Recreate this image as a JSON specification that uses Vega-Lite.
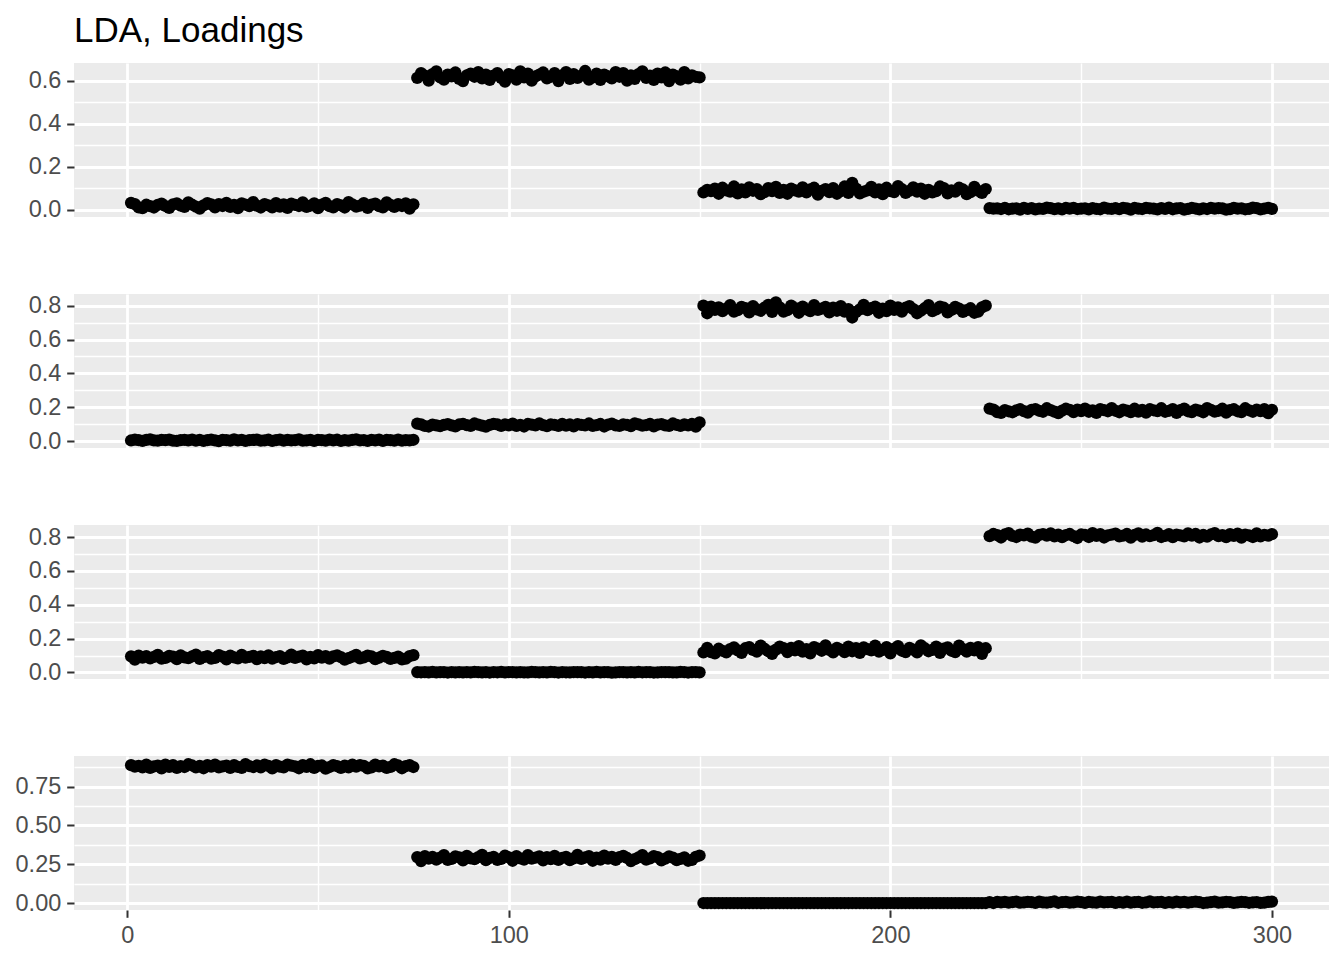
{
"$schema":"https://vega.github.io/schema/vega-lite/v6.json",
"background":"white",
"padding":{"left":15,"top":14,"right":15,"bottom":10},
"bounds":"flush",
"spacing":77,
"config":{
 "view":{"fill":"#EBEBEB","stroke":null},
 "axis":{"domain":false,"labelFont":"Liberation Sans","labelFontSize":23.5,"labelColor":"#4D4D4D","tickColor":"#333333","tickSize":7.3,"tickWidth":2,"labelPadding":5.9,"gridColor":"#FFFFFF","labelFlush":false,"labelOverlap":false,"labelBound":false}
},
"data":{"values":[
{"x":1,"LD1":0.032,"LD2":0.0035,"LD3":0.095,"LD4":0.888},
{"x":2,"LD1":0.026,"LD2":0.008,"LD3":0.075,"LD4":0.879},
{"x":3,"LD1":0.011,"LD2":0.0055,"LD3":0.099,"LD4":0.883},
{"x":4,"LD1":0.007,"LD2":0.001,"LD3":0.087,"LD4":0.874},
{"x":5,"LD1":0.023,"LD2":0.007,"LD3":0.096,"LD4":0.892},
{"x":6,"LD1":0.016,"LD2":0.0095,"LD3":0.083,"LD4":0.871},
{"x":7,"LD1":0.010,"LD2":0.004,"LD3":0.092,"LD4":0.880},
{"x":8,"LD1":0.022,"LD2":0.002,"LD3":0.104,"LD4":0.885},
{"x":9,"LD1":0.028,"LD2":0.0065,"LD3":0.081,"LD4":0.867},
{"x":10,"LD1":0.017,"LD2":0.005,"LD3":0.086,"LD4":0.891},
{"x":11,"LD1":0.008,"LD2":0.0085,"LD3":0.098,"LD4":0.877},
{"x":12,"LD1":0.025,"LD2":0.0025,"LD3":0.093,"LD4":0.888},
{"x":13,"LD1":0.029,"LD2":0.0005,"LD3":0.078,"LD4":0.870},
{"x":14,"LD1":0.019,"LD2":0.006,"LD3":0.101,"LD4":0.882},
{"x":15,"LD1":0.013,"LD2":0.0075,"LD3":0.089,"LD4":0.876},
{"x":16,"LD1":0.034,"LD2":0.0045,"LD3":0.084,"LD4":0.894},
{"x":17,"LD1":0.023,"LD2":0.009,"LD3":0.095,"LD4":0.886},
{"x":18,"LD1":0.014,"LD2":0.003,"LD3":0.105,"LD4":0.873},
{"x":19,"LD1":0.005,"LD2":0.0065,"LD3":0.080,"LD4":0.883},
{"x":20,"LD1":0.020,"LD2":0.0015,"LD3":0.090,"LD4":0.868},
{"x":21,"LD1":0.031,"LD2":0.0055,"LD3":0.096,"LD4":0.889},
{"x":22,"LD1":0.025,"LD2":0.008,"LD3":0.081,"LD4":0.879},
{"x":23,"LD1":0.011,"LD2":0.0035,"LD3":0.086,"LD4":0.892},
{"x":24,"LD1":0.026,"LD2":0,"LD3":0.102,"LD4":0.874},
{"x":25,"LD1":0.017,"LD2":0.007,"LD3":0.093,"LD4":0.880},
{"x":26,"LD1":0.032,"LD2":0.006,"LD3":0.077,"LD4":0.885},
{"x":27,"LD1":0.013,"LD2":0.002,"LD3":0.099,"LD4":0.870},
{"x":28,"LD1":0.022,"LD2":0.0095,"LD3":0.089,"LD4":0.888},
{"x":29,"LD1":0.007,"LD2":0.004,"LD3":0.083,"LD4":0.877},
{"x":30,"LD1":0.029,"LD2":0.0075,"LD3":0.104,"LD4":0.871},
{"x":31,"LD1":0.023,"LD2":0.001,"LD3":0.087,"LD4":0.895},
{"x":32,"LD1":0.016,"LD2":0.005,"LD3":0.092,"LD4":0.882},
{"x":33,"LD1":0.035,"LD2":0.0065,"LD3":0.098,"LD4":0.876},
{"x":34,"LD1":0.019,"LD2":0.0085,"LD3":0.078,"LD4":0.886},
{"x":35,"LD1":0.010,"LD2":0.003,"LD3":0.095,"LD4":0.873},
{"x":36,"LD1":0.026,"LD2":0.0045,"LD3":0.084,"LD4":0.892},
{"x":37,"LD1":0.020,"LD2":0.008,"LD3":0.101,"LD4":0.883},
{"x":38,"LD1":0.011,"LD2":0.0005,"LD3":0.081,"LD4":0.867},
{"x":39,"LD1":0.031,"LD2":0.006,"LD3":0.090,"LD4":0.889},
{"x":40,"LD1":0.014,"LD2":0.009,"LD3":0.096,"LD4":0.879},
{"x":41,"LD1":0.025,"LD2":0.0025,"LD3":0.080,"LD4":0.874},
{"x":42,"LD1":0.008,"LD2":0.007,"LD3":0.089,"LD4":0.891},
{"x":43,"LD1":0.028,"LD2":0.0035,"LD3":0.105,"LD4":0.885},
{"x":44,"LD1":0.022,"LD2":0.0055,"LD3":0.086,"LD4":0.880},
{"x":45,"LD1":0.017,"LD2":0.01,"LD3":0.093,"LD4":0.868},
{"x":46,"LD1":0.034,"LD2":0.002,"LD3":0.099,"LD4":0.888},
{"x":47,"LD1":0.013,"LD2":0.004,"LD3":0.077,"LD4":0.877},
{"x":48,"LD1":0.019,"LD2":0.0075,"LD3":0.092,"LD4":0.894},
{"x":49,"LD1":0.029,"LD2":0.0015,"LD3":0.083,"LD4":0.871},
{"x":50,"LD1":0.007,"LD2":0.0065,"LD3":0.102,"LD4":0.883},
{"x":51,"LD1":0.023,"LD2":0.005,"LD3":0.087,"LD4":0.886},
{"x":52,"LD1":0.032,"LD2":0.003,"LD3":0.096,"LD4":0.865},
{"x":53,"LD1":0.016,"LD2":0.009,"LD3":0.081,"LD4":0.876},
{"x":54,"LD1":0.011,"LD2":0.0045,"LD3":0.095,"LD4":0.889},
{"x":55,"LD1":0.026,"LD2":0.008,"LD3":0.101,"LD4":0.882},
{"x":56,"LD1":0.020,"LD2":0.001,"LD3":0.090,"LD4":0.870},
{"x":57,"LD1":0.010,"LD2":0.006,"LD3":0.075,"LD4":0.885},
{"x":58,"LD1":0.035,"LD2":0.0025,"LD3":0.084,"LD4":0.874},
{"x":59,"LD1":0.025,"LD2":0.007,"LD3":0.093,"LD4":0.892},
{"x":60,"LD1":0.014,"LD2":0.0095,"LD3":0.104,"LD4":0.879},
{"x":61,"LD1":0.019,"LD2":0.0035,"LD3":0.083,"LD4":0.888},
{"x":62,"LD1":0.031,"LD2":0.0055,"LD3":0.089,"LD4":0.883},
{"x":63,"LD1":0.008,"LD2":0.0015,"LD3":0.099,"LD4":0.867},
{"x":64,"LD1":0.023,"LD2":0.0075,"LD3":0.095,"LD4":0.873},
{"x":65,"LD1":0.028,"LD2":0.004,"LD3":0.078,"LD4":0.891},
{"x":66,"LD1":0.016,"LD2":0.0085,"LD3":0.087,"LD4":0.880},
{"x":67,"LD1":0.011,"LD2":0.0005,"LD3":0.098,"LD4":0.885},
{"x":68,"LD1":0.034,"LD2":0.0065,"LD3":0.092,"LD4":0.871},
{"x":69,"LD1":0.022,"LD2":0.005,"LD3":0.080,"LD4":0.877},
{"x":70,"LD1":0.013,"LD2":0.002,"LD3":0.086,"LD4":0.894},
{"x":71,"LD1":0.026,"LD2":0.009,"LD3":0.093,"LD4":0.886},
{"x":72,"LD1":0.017,"LD2":0.003,"LD3":0.077,"LD4":0.868},
{"x":73,"LD1":0.029,"LD2":0.006,"LD3":0.081,"LD4":0.882},
{"x":74,"LD1":0.005,"LD2":0.0045,"LD3":0.096,"LD4":0.889},
{"x":75,"LD1":0.025,"LD2":0.0075,"LD3":0.102,"LD4":0.876},
{"x":76,"LD1":0.613,"LD2":0.103,"LD3":0.002,"LD4":0.296},
{"x":77,"LD1":0.635,"LD2":0.099,"LD3":0.0008,"LD4":0.270},
{"x":78,"LD1":0.623,"LD2":0.089,"LD3":0.0014,"LD4":0.302},
{"x":79,"LD1":0.600,"LD2":0.086,"LD3":0.0002,"LD4":0.286},
{"x":80,"LD1":0.630,"LD2":0.097,"LD3":0.0026,"LD4":0.298},
{"x":81,"LD1":0.643,"LD2":0.092,"LD3":-0.0002,"LD4":0.280},
{"x":82,"LD1":0.615,"LD2":0.088,"LD3":0.001,"LD4":0.292},
{"x":83,"LD1":0.605,"LD2":0.096,"LD3":0.0016,"LD4":0.308},
{"x":84,"LD1":0.628,"LD2":0.100,"LD3":-0.0008,"LD4":0.278},
{"x":85,"LD1":0.620,"LD2":0.093,"LD3":0.0024,"LD4":0.284},
{"x":86,"LD1":0.638,"LD2":0.087,"LD3":0.0006,"LD4":0.300},
{"x":87,"LD1":0.608,"LD2":0.098,"LD3":0.002,"LD4":0.294},
{"x":88,"LD1":0.598,"LD2":0.101,"LD3":-0.0004,"LD4":0.274},
{"x":89,"LD1":0.625,"LD2":0.094,"LD3":0.0012,"LD4":0.304},
{"x":90,"LD1":0.633,"LD2":0.090,"LD3":0.0004,"LD4":0.288},
{"x":91,"LD1":0.618,"LD2":0.104,"LD3":0.0028,"LD4":0.282},
{"x":92,"LD1":0.640,"LD2":0.097,"LD3":0.0018,"LD4":0.296},
{"x":93,"LD1":0.610,"LD2":0.091,"LD3":0,"LD4":0.310},
{"x":94,"LD1":0.628,"LD2":0.085,"LD3":0.0014,"LD4":0.276},
{"x":95,"LD1":0.603,"LD2":0.095,"LD3":-0.0006,"LD4":0.290},
{"x":96,"LD1":0.623,"LD2":0.102,"LD3":0.0022,"LD4":0.298},
{"x":97,"LD1":0.635,"LD2":0.098,"LD3":0.0008,"LD4":0.278},
{"x":98,"LD1":0.613,"LD2":0.089,"LD3":0.0026,"LD4":0.284},
{"x":99,"LD1":0.595,"LD2":0.099,"LD3":0.0002,"LD4":0.306},
{"x":100,"LD1":0.630,"LD2":0.093,"LD3":0.001,"LD4":0.294},
{"x":101,"LD1":0.625,"LD2":0.103,"LD3":0.0016,"LD4":0.272},
{"x":102,"LD1":0.605,"LD2":0.090,"LD3":-0.0004,"LD4":0.302},
{"x":103,"LD1":0.643,"LD2":0.096,"LD3":0.002,"LD4":0.288},
{"x":104,"LD1":0.615,"LD2":0.086,"LD3":0.0006,"LD4":0.280},
{"x":105,"LD1":0.633,"LD2":0.101,"LD3":-0.0002,"LD4":0.308},
{"x":106,"LD1":0.600,"LD2":0.097,"LD3":0.003,"LD4":0.286},
{"x":107,"LD1":0.620,"LD2":0.092,"LD3":0.0012,"LD4":0.292},
{"x":108,"LD1":0.628,"LD2":0.105,"LD3":0.0004,"LD4":0.300},
{"x":109,"LD1":0.638,"LD2":0.094,"LD3":0.0018,"LD4":0.274},
{"x":110,"LD1":0.610,"LD2":0.088,"LD3":0,"LD4":0.296},
{"x":111,"LD1":0.618,"LD2":0.099,"LD3":0.0026,"LD4":0.282},
{"x":112,"LD1":0.635,"LD2":0.095,"LD3":0.0014,"LD4":0.304},
{"x":113,"LD1":0.598,"LD2":0.089,"LD3":-0.0008,"LD4":0.278},
{"x":114,"LD1":0.625,"LD2":0.102,"LD3":0.0022,"LD4":0.290},
{"x":115,"LD1":0.640,"LD2":0.091,"LD3":0.0008,"LD4":0.298},
{"x":116,"LD1":0.608,"LD2":0.098,"LD3":0.0002,"LD4":0.276},
{"x":117,"LD1":0.630,"LD2":0.087,"LD3":0.0024,"LD4":0.288},
{"x":118,"LD1":0.613,"LD2":0.100,"LD3":0.0016,"LD4":0.310},
{"x":119,"LD1":0.623,"LD2":0.096,"LD3":0.001,"LD4":0.284},
{"x":120,"LD1":0.645,"LD2":0.093,"LD3":-0.0006,"LD4":0.294},
{"x":121,"LD1":0.605,"LD2":0.104,"LD3":0.002,"LD4":0.302},
{"x":122,"LD1":0.615,"LD2":0.090,"LD3":0.0006,"LD4":0.272},
{"x":123,"LD1":0.633,"LD2":0.094,"LD3":0.0028,"LD4":0.292},
{"x":124,"LD1":0.603,"LD2":0.101,"LD3":-0.0002,"LD4":0.280},
{"x":125,"LD1":0.628,"LD2":0.086,"LD3":0.0014,"LD4":0.306},
{"x":126,"LD1":0.620,"LD2":0.097,"LD3":0.0018,"LD4":0.286},
{"x":127,"LD1":0.610,"LD2":0.103,"LD3":-0.001,"LD4":0.298},
{"x":128,"LD1":0.640,"LD2":0.092,"LD3":0.0004,"LD4":0.278},
{"x":129,"LD1":0.618,"LD2":0.089,"LD3":0.0022,"LD4":0.296},
{"x":130,"LD1":0.635,"LD2":0.099,"LD3":0.0012,"LD4":0.304},
{"x":131,"LD1":0.600,"LD2":0.095,"LD3":-0.0004,"LD4":0.290},
{"x":132,"LD1":0.625,"LD2":0.088,"LD3":0.0016,"LD4":0.270},
{"x":133,"LD1":0.608,"LD2":0.105,"LD3":0.0002,"LD4":0.282},
{"x":134,"LD1":0.630,"LD2":0.098,"LD3":0.0026,"LD4":0.294},
{"x":135,"LD1":0.643,"LD2":0.091,"LD3":0.0008,"LD4":0.308},
{"x":136,"LD1":0.613,"LD2":0.094,"LD3":0.002,"LD4":0.280},
{"x":137,"LD1":0.623,"LD2":0.102,"LD3":0.0014,"LD4":0.288},
{"x":138,"LD1":0.603,"LD2":0.087,"LD3":-0.0008,"LD4":0.302},
{"x":139,"LD1":0.633,"LD2":0.097,"LD3":0,"LD4":0.296},
{"x":140,"LD1":0.615,"LD2":0.100,"LD3":0.0024,"LD4":0.274},
{"x":141,"LD1":0.638,"LD2":0.092,"LD3":0.001,"LD4":0.286},
{"x":142,"LD1":0.598,"LD2":0.089,"LD3":0.0016,"LD4":0.300},
{"x":143,"LD1":0.628,"LD2":0.104,"LD3":-0.0002,"LD4":0.292},
{"x":144,"LD1":0.620,"LD2":0.096,"LD3":0.0006,"LD4":0.276},
{"x":145,"LD1":0.605,"LD2":0.090,"LD3":0.0028,"LD4":0.284},
{"x":146,"LD1":0.640,"LD2":0.099,"LD3":0.0018,"LD4":0.294},
{"x":147,"LD1":0.610,"LD2":0.093,"LD3":-0.0006,"LD4":0.272},
{"x":148,"LD1":0.625,"LD2":0.101,"LD3":0.0012,"LD4":0.278},
{"x":149,"LD1":0.618,"LD2":0.085,"LD3":0.0022,"LD4":0.298},
{"x":150,"LD1":0.615,"LD2":0.110,"LD3":0.0004,"LD4":0.306},
{"x":151,"LD1":0.080,"LD2":0.800,"LD3":0.118,"LD4":0},
{"x":152,"LD1":0.092,"LD2":0.755,"LD3":0.145,"LD4":0},
{"x":153,"LD1":0.086,"LD2":0.795,"LD3":0.120,"LD4":0},
{"x":154,"LD1":0.098,"LD2":0.775,"LD3":0.113,"LD4":0},
{"x":155,"LD1":0.074,"LD2":0.790,"LD3":0.140,"LD4":0},
{"x":156,"LD1":0.102,"LD2":0.768,"LD3":0.128,"LD4":0},
{"x":157,"LD1":0.090,"LD2":0.783,"LD3":0.118,"LD4":0},
{"x":158,"LD1":0.084,"LD2":0.803,"LD3":0.138,"LD4":0},
{"x":159,"LD1":0.108,"LD2":0.765,"LD3":0.148,"LD4":0},
{"x":160,"LD1":0.076,"LD2":0.773,"LD3":0.130,"LD4":0},
{"x":161,"LD1":0.094,"LD2":0.793,"LD3":0.115,"LD4":0},
{"x":162,"LD1":0.080,"LD2":0.785,"LD3":0.143,"LD4":0},
{"x":163,"LD1":0.104,"LD2":0.760,"LD3":0.150,"LD4":0},
{"x":164,"LD1":0.088,"LD2":0.798,"LD3":0.133,"LD4":0},
{"x":165,"LD1":0.096,"LD2":0.778,"LD3":0.123,"LD4":0},
{"x":166,"LD1":0.072,"LD2":0.770,"LD3":0.158,"LD4":0},
{"x":167,"LD1":0.082,"LD2":0.788,"LD3":0.140,"LD4":0},
{"x":168,"LD1":0.100,"LD2":0.805,"LD3":0.125,"LD4":0},
{"x":169,"LD1":0.086,"LD2":0.763,"LD3":0.110,"LD4":0},
{"x":170,"LD1":0.106,"LD2":0.820,"LD3":0.135,"LD4":0},
{"x":171,"LD1":0.078,"LD2":0.790,"LD3":0.153,"LD4":0},
{"x":172,"LD1":0.092,"LD2":0.765,"LD3":0.143,"LD4":0},
{"x":173,"LD1":0.074,"LD2":0.773,"LD3":0.120,"LD4":0},
{"x":174,"LD1":0.098,"LD2":0.800,"LD3":0.145,"LD4":0},
{"x":175,"LD1":0.090,"LD2":0.785,"LD3":0.130,"LD4":0},
{"x":176,"LD1":0.084,"LD2":0.758,"LD3":0.155,"LD4":0},
{"x":177,"LD1":0.104,"LD2":0.795,"LD3":0.123,"LD4":0},
{"x":178,"LD1":0.080,"LD2":0.778,"LD3":0.138,"LD4":0},
{"x":179,"LD1":0.094,"LD2":0.768,"LD3":0.113,"LD4":0},
{"x":180,"LD1":0.102,"LD2":0.803,"LD3":0.150,"LD4":0},
{"x":181,"LD1":0.070,"LD2":0.775,"LD3":0.140,"LD4":0},
{"x":182,"LD1":0.088,"LD2":0.783,"LD3":0.128,"LD4":0},
{"x":183,"LD1":0.096,"LD2":0.793,"LD3":0.160,"LD4":0},
{"x":184,"LD1":0.082,"LD2":0.760,"LD3":0.133,"LD4":0},
{"x":185,"LD1":0.100,"LD2":0.788,"LD3":0.118,"LD4":0},
{"x":186,"LD1":0.074,"LD2":0.770,"LD3":0.145,"LD4":0},
{"x":187,"LD1":0.086,"LD2":0.798,"LD3":0.135,"LD4":0},
{"x":188,"LD1":0.108,"LD2":0.765,"LD3":0.120,"LD4":0},
{"x":189,"LD1":0.078,"LD2":0.780,"LD3":0.153,"LD4":0},
{"x":190,"LD1":0.125,"LD2":0.730,"LD3":0.125,"LD4":0},
{"x":191,"LD1":0.098,"LD2":0.763,"LD3":0.143,"LD4":0},
{"x":192,"LD1":0.076,"LD2":0.778,"LD3":0.115,"LD4":0},
{"x":193,"LD1":0.084,"LD2":0.805,"LD3":0.148,"LD4":0},
{"x":194,"LD1":0.090,"LD2":0.773,"LD3":0.138,"LD4":0},
{"x":195,"LD1":0.106,"LD2":0.785,"LD3":0.130,"LD4":0},
{"x":196,"LD1":0.080,"LD2":0.795,"LD3":0.158,"LD4":0},
{"x":197,"LD1":0.094,"LD2":0.758,"LD3":0.123,"LD4":0},
{"x":198,"LD1":0.072,"LD2":0.783,"LD3":0.133,"LD4":0},
{"x":199,"LD1":0.102,"LD2":0.768,"LD3":0.150,"LD4":0},
{"x":200,"LD1":0.086,"LD2":0.800,"LD3":0.113,"LD4":0},
{"x":201,"LD1":0.082,"LD2":0.775,"LD3":0.140,"LD4":0},
{"x":202,"LD1":0.110,"LD2":0.790,"LD3":0.155,"LD4":0},
{"x":203,"LD1":0.096,"LD2":0.765,"LD3":0.128,"LD4":0},
{"x":204,"LD1":0.078,"LD2":0.788,"LD3":0.120,"LD4":0},
{"x":205,"LD1":0.088,"LD2":0.798,"LD3":0.145,"LD4":0},
{"x":206,"LD1":0.104,"LD2":0.780,"LD3":0.135,"LD4":0},
{"x":207,"LD1":0.084,"LD2":0.755,"LD3":0.118,"LD4":0},
{"x":208,"LD1":0.098,"LD2":0.770,"LD3":0.160,"LD4":0},
{"x":209,"LD1":0.074,"LD2":0.785,"LD3":0.143,"LD4":0},
{"x":210,"LD1":0.092,"LD2":0.803,"LD3":0.125,"LD4":0},
{"x":211,"LD1":0.080,"LD2":0.768,"LD3":0.133,"LD4":0},
{"x":212,"LD1":0.086,"LD2":0.778,"LD3":0.153,"LD4":0},
{"x":213,"LD1":0.108,"LD2":0.795,"LD3":0.115,"LD4":0},
{"x":214,"LD1":0.100,"LD2":0.788,"LD3":0.140,"LD4":0},
{"x":215,"LD1":0.076,"LD2":0.760,"LD3":0.148,"LD4":0},
{"x":216,"LD1":0.090,"LD2":0.775,"LD3":0.128,"LD4":0},
{"x":217,"LD1":0.084,"LD2":0.793,"LD3":0.120,"LD4":0},
{"x":218,"LD1":0.102,"LD2":0.783,"LD3":0.158,"LD4":0},
{"x":219,"LD1":0.094,"LD2":0.763,"LD3":0.138,"LD4":0},
{"x":220,"LD1":0.072,"LD2":0.773,"LD3":0.123,"LD4":0},
{"x":221,"LD1":0.082,"LD2":0.785,"LD3":0.145,"LD4":0},
{"x":222,"LD1":0.106,"LD2":0.758,"LD3":0.130,"LD4":0},
{"x":223,"LD1":0.088,"LD2":0.765,"LD3":0.150,"LD4":0},
{"x":224,"LD1":0.078,"LD2":0.790,"LD3":0.110,"LD4":0},
{"x":225,"LD1":0.096,"LD2":0.800,"LD3":0.143,"LD4":0},
{"x":226,"LD1":0.0075,"LD2":0.192,"LD3":0.806,"LD4":0.0065},
{"x":227,"LD1":0.0045,"LD2":0.186,"LD3":0.819,"LD4":0},
{"x":228,"LD1":0.006,"LD2":0.171,"LD3":0.812,"LD4":0.008},
{"x":229,"LD1":0.003,"LD2":0.167,"LD3":0.798,"LD4":0.004},
{"x":230,"LD1":0.009,"LD2":0.183,"LD3":0.816,"LD4":0.007},
{"x":231,"LD1":0.002,"LD2":0.176,"LD3":0.824,"LD4":0.0025},
{"x":232,"LD1":0.005,"LD2":0.170,"LD3":0.807,"LD4":0.0055},
{"x":233,"LD1":0.0065,"LD2":0.182,"LD3":0.801,"LD4":0.0095},
{"x":234,"LD1":0.0005,"LD2":0.188,"LD3":0.815,"LD4":0.002},
{"x":235,"LD1":0.0085,"LD2":0.177,"LD3":0.810,"LD4":0.0035},
{"x":236,"LD1":0.004,"LD2":0.168,"LD3":0.821,"LD4":0.0075},
{"x":237,"LD1":0.0075,"LD2":0.185,"LD3":0.803,"LD4":0.006},
{"x":238,"LD1":0.0015,"LD2":0.189,"LD3":0.797,"LD4":0.001},
{"x":239,"LD1":0.0055,"LD2":0.179,"LD3":0.813,"LD4":0.0085},
{"x":240,"LD1":0.0035,"LD2":0.173,"LD3":0.818,"LD4":0.0045},
{"x":241,"LD1":0.0095,"LD2":0.194,"LD3":0.809,"LD4":0.003},
{"x":242,"LD1":0.007,"LD2":0.183,"LD3":0.822,"LD4":0.0065},
{"x":243,"LD1":0.0025,"LD2":0.174,"LD3":0.804,"LD4":0.01},
{"x":244,"LD1":0.006,"LD2":0.165,"LD3":0.815,"LD4":0.0015},
{"x":245,"LD1":0.001,"LD2":0.180,"LD3":0.800,"LD4":0.005},
{"x":246,"LD1":0.008,"LD2":0.191,"LD3":0.812,"LD4":0.007},
{"x":247,"LD1":0.0045,"LD2":0.185,"LD3":0.819,"LD4":0.002},
{"x":248,"LD1":0.009,"LD2":0.171,"LD3":0.806,"LD4":0.0035},
{"x":249,"LD1":0.003,"LD2":0.186,"LD3":0.795,"LD4":0.009},
{"x":250,"LD1":0.005,"LD2":0.177,"LD3":0.816,"LD4":0.006},
{"x":251,"LD1":0.0065,"LD2":0.192,"LD3":0.813,"LD4":0.0005},
{"x":252,"LD1":0.0015,"LD2":0.173,"LD3":0.801,"LD4":0.008},
{"x":253,"LD1":0.0075,"LD2":0.182,"LD3":0.824,"LD4":0.0045},
{"x":254,"LD1":0.004,"LD2":0.167,"LD3":0.807,"LD4":0.0025},
{"x":255,"LD1":0.002,"LD2":0.189,"LD3":0.818,"LD4":0.0095},
{"x":256,"LD1":0.01,"LD2":0.183,"LD3":0.798,"LD4":0.004},
{"x":257,"LD1":0.0055,"LD2":0.176,"LD3":0.810,"LD4":0.0055},
{"x":258,"LD1":0.0035,"LD2":0.195,"LD3":0.815,"LD4":0.0075},
{"x":259,"LD1":0.007,"LD2":0.179,"LD3":0.821,"LD4":0.001},
{"x":260,"LD1":0.0025,"LD2":0.170,"LD3":0.804,"LD4":0.0065},
{"x":261,"LD1":0.009,"LD2":0.186,"LD3":0.809,"LD4":0.003},
{"x":262,"LD1":0.006,"LD2":0.180,"LD3":0.819,"LD4":0.0085},
{"x":263,"LD1":0.0005,"LD2":0.171,"LD3":0.797,"LD4":0.002},
{"x":264,"LD1":0.008,"LD2":0.191,"LD3":0.813,"LD4":0.005},
{"x":265,"LD1":0.0045,"LD2":0.174,"LD3":0.822,"LD4":0.007},
{"x":266,"LD1":0.003,"LD2":0.185,"LD3":0.803,"LD4":0.0015},
{"x":267,"LD1":0.0085,"LD2":0.168,"LD3":0.816,"LD4":0.0045},
{"x":268,"LD1":0.0065,"LD2":0.188,"LD3":0.806,"LD4":0.01},
{"x":269,"LD1":0.005,"LD2":0.182,"LD3":0.812,"LD4":0.0035},
{"x":270,"LD1":0.001,"LD2":0.177,"LD3":0.825,"LD4":0.006},
{"x":271,"LD1":0.0075,"LD2":0.194,"LD3":0.801,"LD4":0.008},
{"x":272,"LD1":0.004,"LD2":0.173,"LD3":0.807,"LD4":0.0005},
{"x":273,"LD1":0.0095,"LD2":0.179,"LD3":0.818,"LD4":0.0055},
{"x":274,"LD1":0.002,"LD2":0.189,"LD3":0.800,"LD4":0.0025},
{"x":275,"LD1":0.006,"LD2":0.167,"LD3":0.815,"LD4":0.009},
{"x":276,"LD1":0.007,"LD2":0.183,"LD3":0.810,"LD4":0.004},
{"x":277,"LD1":0,"LD2":0.192,"LD3":0.804,"LD4":0.007},
{"x":278,"LD1":0.0035,"LD2":0.176,"LD3":0.822,"LD4":0.002},
{"x":279,"LD1":0.008,"LD2":0.171,"LD3":0.809,"LD4":0.0065},
{"x":280,"LD1":0.0055,"LD2":0.186,"LD3":0.819,"LD4":0.0085},
{"x":281,"LD1":0.0015,"LD2":0.180,"LD3":0.798,"LD4":0.005},
{"x":282,"LD1":0.0065,"LD2":0.170,"LD3":0.813,"LD4":0},
{"x":283,"LD1":0.003,"LD2":0.195,"LD3":0.803,"LD4":0.003},
{"x":284,"LD1":0.009,"LD2":0.185,"LD3":0.816,"LD4":0.006},
{"x":285,"LD1":0.0045,"LD2":0.174,"LD3":0.824,"LD4":0.0095},
{"x":286,"LD1":0.0075,"LD2":0.179,"LD3":0.806,"LD4":0.0025},
{"x":287,"LD1":0.006,"LD2":0.191,"LD3":0.812,"LD4":0.0045},
{"x":288,"LD1":0.0005,"LD2":0.168,"LD3":0.800,"LD4":0.008},
{"x":289,"LD1":0.0025,"LD2":0.183,"LD3":0.818,"LD4":0.0065},
{"x":290,"LD1":0.0085,"LD2":0.188,"LD3":0.807,"LD4":0.001},
{"x":291,"LD1":0.005,"LD2":0.176,"LD3":0.821,"LD4":0.004},
{"x":292,"LD1":0.0065,"LD2":0.171,"LD3":0.797,"LD4":0.0075},
{"x":293,"LD1":0.002,"LD2":0.194,"LD3":0.815,"LD4":0.0055},
{"x":294,"LD1":0.004,"LD2":0.182,"LD3":0.810,"LD4":0.0015},
{"x":295,"LD1":0.0095,"LD2":0.173,"LD3":0.801,"LD4":0.0035},
{"x":296,"LD1":0.007,"LD2":0.186,"LD3":0.822,"LD4":0.006},
{"x":297,"LD1":0.001,"LD2":0.177,"LD3":0.804,"LD4":0.0005},
{"x":298,"LD1":0.0055,"LD2":0.189,"LD3":0.813,"LD4":0.002},
{"x":299,"LD1":0.008,"LD2":0.165,"LD3":0.809,"LD4":0.007},
{"x":300,"LD1":0.0035,"LD2":0.185,"LD3":0.818,"LD4":0.009}
]},
"vconcat":[
{
 "width":1255,"height":154,
 "title":{"text":"LDA, Loadings","anchor":"start","frame":"group","font":"Liberation Sans","fontSize":35,"fontWeight":"normal","color":"#000000","baseline":"alphabetic","offset":-14},
 "mark":{"type":"circle","size":150,"color":"#000000","opacity":1},
 "encoding":{
  "x":{"field":"x","type":"quantitative","scale":{"domain":[-13.95,314.95],"nice":false,"zero":false},
   "axis":{"title":null,"values":[0,50,100,150,200,250,300],"labels":false,"ticks":false,"gridWidth":{"condition":{"test":"datum.value % 100 != 0","value":1.4},"value":2.8}}},
  "y":{"field":"LD1","type":"quantitative","scale":{"domain":[-0.034,0.682],"nice":false,"zero":false},
   "axis":{"title":null,"values":[0,0.1,0.2,0.3,0.4,0.5,0.6],"format":".1f","labelExpr":"round(datum.value*10) % 2 == 1 ? '' : datum.label","tickOpacity":{"condition":{"test":"round(datum.value*10) % 2 == 1","value":0},"value":1},"gridWidth":{"condition":{"test":"round(datum.value*10) % 2 == 1","value":1.4},"value":2.8}}}
 }
},
{
 "width":1255,"height":154,
 "mark":{"type":"circle","size":150,"color":"#000000","opacity":1},
 "encoding":{
  "x":{"field":"x","type":"quantitative","scale":{"domain":[-13.95,314.95],"nice":false,"zero":false},
   "axis":{"title":null,"values":[0,50,100,150,200,250,300],"labels":false,"ticks":false,"gridWidth":{"condition":{"test":"datum.value % 100 != 0","value":1.4},"value":2.8}}},
  "y":{"field":"LD2","type":"quantitative","scale":{"domain":[-0.041,0.869],"nice":false,"zero":false},
   "axis":{"title":null,"values":[0,0.1,0.2,0.3,0.4,0.5,0.6,0.7,0.8],"format":".1f","labelExpr":"round(datum.value*10) % 2 == 1 ? '' : datum.label","tickOpacity":{"condition":{"test":"round(datum.value*10) % 2 == 1","value":0},"value":1},"gridWidth":{"condition":{"test":"round(datum.value*10) % 2 == 1","value":1.4},"value":2.8}}}
 }
},
{
 "width":1255,"height":154,
 "mark":{"type":"circle","size":150,"color":"#000000","opacity":1},
 "encoding":{
  "x":{"field":"x","type":"quantitative","scale":{"domain":[-13.95,314.95],"nice":false,"zero":false},
   "axis":{"title":null,"values":[0,50,100,150,200,250,300],"labels":false,"ticks":false,"gridWidth":{"condition":{"test":"datum.value % 100 != 0","value":1.4},"value":2.8}}},
  "y":{"field":"LD3","type":"quantitative","scale":{"domain":[-0.039,0.872],"nice":false,"zero":false},
   "axis":{"title":null,"values":[0,0.1,0.2,0.3,0.4,0.5,0.6,0.7,0.8],"format":".1f","labelExpr":"round(datum.value*10) % 2 == 1 ? '' : datum.label","tickOpacity":{"condition":{"test":"round(datum.value*10) % 2 == 1","value":0},"value":1},"gridWidth":{"condition":{"test":"round(datum.value*10) % 2 == 1","value":1.4},"value":2.8}}}
 }
},
{
 "width":1255,"height":154,
 "mark":{"type":"circle","size":150,"color":"#000000","opacity":1},
 "encoding":{
  "x":{"field":"x","type":"quantitative","scale":{"domain":[-13.95,314.95],"nice":false,"zero":false},
   "axis":{"title":null,"values":[0,50,100,150,200,250,300],"labelExpr":"datum.value % 100 != 0 ? '' : datum.label","tickOpacity":{"condition":{"test":"datum.value % 100 != 0","value":0},"value":1},"gridWidth":{"condition":{"test":"datum.value % 100 != 0","value":1.4},"value":2.8}}},
  "y":{"field":"LD4","type":"quantitative","scale":{"domain":[-0.045,0.947],"nice":false,"zero":false},
   "axis":{"title":null,"values":[0,0.125,0.25,0.375,0.5,0.625,0.75,0.875],"format":".2f","labelExpr":"round(datum.value*8) % 2 == 1 ? '' : datum.label","tickOpacity":{"condition":{"test":"round(datum.value*8) % 2 == 1","value":0},"value":1},"gridWidth":{"condition":{"test":"round(datum.value*8) % 2 == 1","value":1.4},"value":2.8}}}
 }
}
]
}
